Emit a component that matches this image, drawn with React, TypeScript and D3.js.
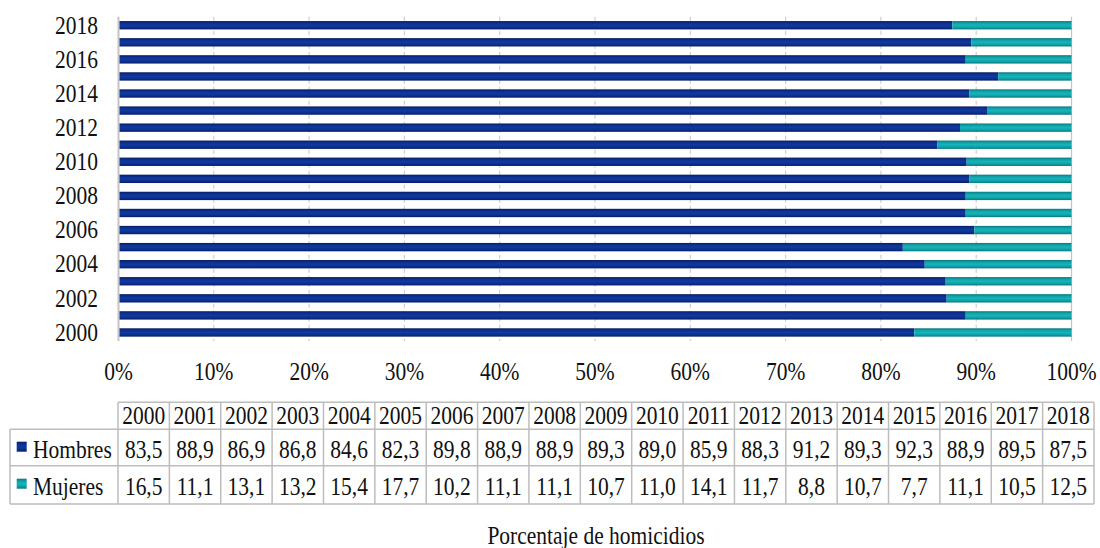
import React from "react";
import * as d3 from "d3";

// Share of homicide victims by sex, 2000–2018 (percent)
const years = [
  "2000", "2001", "2002", "2003", "2004", "2005", "2006", "2007", "2008", "2009",
  "2010", "2011", "2012", "2013", "2014", "2015", "2016", "2017", "2018",
];
const hombres = [
  83.5, 88.9, 86.9, 86.8, 84.6, 82.3, 89.8, 88.9, 88.9, 89.3,
  89.0, 85.9, 88.3, 91.2, 89.3, 92.3, 88.9, 89.5, 87.5,
];
const mujeres = [
  16.5, 11.1, 13.1, 13.2, 15.4, 17.7, 10.2, 11.1, 11.1, 10.7,
  11.0, 14.1, 11.7, 8.8, 10.7, 7.7, 11.1, 10.5, 12.5,
];
const seriesNames = ["Hombres", "Mujeres"];
const xTicks = [0, 10, 20, 30, 40, 50, 60, 70, 80, 90, 100];
const axisTitle = "Porcentaje de homicidios";

const W = 1100;
const H = 548;
const FONT = '"Times New Roman", "Liberation Serif", Times, serif';
const FS = 21.5;
const STRETCH = 1.18;

function Label(props: { x: number; y: number; anchor?: string; children: React.ReactNode }) {
  const { x, y, anchor = "middle", children } = props;
  return (
    <g transform={`translate(${x},${y}) scale(1,${STRETCH})`}>
      <text
        x={0}
        y={0}
        textAnchor={anchor as any}
        style={{ fontFamily: FONT, fontSize: FS }}
        fill="#111"
      >
        {children}
      </text>
    </g>
  );
}

const fmt = (v: number) => d3.format(".1f")(v).replace(".", ",");

export default function App() {
  const x = d3.scaleLinear().domain([0, 100]).range([118.5, 1071.5]);
  const y = d3
    .scaleBand<string>()
    .domain([...years].reverse())
    .range([16.7, 341])
    .paddingInner(0.51)
    .paddingOuter(0.255);

  const rows = years.map((yr, i) => ({ year: yr, Hombres: hombres[i], Mujeres: mujeres[i] }));
  const stacked = d3.stack<any>().keys(seriesNames)(rows);
  const gradIds = ["gH", "gM"];

  // data table geometry
  const tX0 = 118;
  const tX1 = 1094;
  const col = d3.scaleBand<string>().domain(years).range([tX0, tX1]);
  const rowLines = [402.3, 429.2, 465.8, 504];
  const baselines = [423.5, 458, 495];
  const legendX0 = 10;
  const border = "#bdbdbd";

  const [y0, y1] = y.range();

  return (
    <svg
      width={W}
      height={H}
      style={{ position: "absolute", left: 0, top: 0, background: "#fff" }}
    >
      <defs>
        <linearGradient id="gH" x1="0" y1="0" x2="0" y2="1">
          <stop offset="0" stopColor="#0a1c62" />
          <stop offset="0.25" stopColor="#0c3090" />
          <stop offset="0.5" stopColor="#0f3aa0" />
          <stop offset="0.75" stopColor="#0c3090" />
          <stop offset="1" stopColor="#0a1c62" />
        </linearGradient>
        <linearGradient id="gM" x1="0" y1="0" x2="0" y2="1">
          <stop offset="0" stopColor="#08787e" />
          <stop offset="0.25" stopColor="#10a2a8" />
          <stop offset="0.5" stopColor="#16b4ba" />
          <stop offset="0.75" stopColor="#10a2a8" />
          <stop offset="1" stopColor="#08787e" />
        </linearGradient>
      </defs>

      {/* vertical gridlines */}
      {xTicks.map((t) => (
        <line
          key={`g${t}`}
          x1={x(t)}
          x2={x(t)}
          y1={y0}
          y2={y1}
          stroke={t === 0 || t === 100 ? "#c4c4c4" : "#cfcfcf"}
          strokeWidth={t === 0 ? 2 : 1.2}
          strokeDasharray={t === 0 || t === 100 ? undefined : "4,3"}
        />
      ))}

      {/* stacked bars */}
      {stacked.map((s, si) => (
        <g key={s.key} fill={`url(#${gradIds[si]})`}>
          {s.map((d: any) => (
            <rect
              key={d.data.year}
              x={x(d[0]) + (si === 0 ? 1 : 0)}
              y={y(d.data.year)}
              width={x(d[1]) - x(d[0]) - (si === 0 ? 1 : 0)}
              height={y.bandwidth()}
            />
          ))}
        </g>
      ))}

      {/* category labels (every other year) */}
      {years
        .filter((_, i) => i % 2 === 0)
        .map((yr) => (
          <Label key={`yl${yr}`} x={98} y={(y(yr) as number) + y.bandwidth() / 2 + 8.3} anchor="end">
            {yr}
          </Label>
        ))}

      {/* value axis labels */}
      {xTicks.map((t) => (
        <Label key={`xl${t}`} x={x(t)} y={380}>
          {`${t}%`}
        </Label>
      ))}

      {/* data table */}
      <g stroke={border} strokeWidth={1.5} fill="none">
        <line x1={tX0} x2={tX1} y1={rowLines[0]} y2={rowLines[0]} />
        {rowLines.slice(1).map((ly, i) => (
          <line key={`hl${i}`} x1={legendX0} x2={tX1} y1={ly} y2={ly} />
        ))}
        <line x1={legendX0} x2={legendX0} y1={rowLines[1]} y2={rowLines[3]} />
        {years.map((yr) => (
          <line
            key={`vl${yr}`}
            x1={col(yr)}
            x2={col(yr)}
            y1={rowLines[0]}
            y2={rowLines[3]}
          />
        ))}
        <line x1={tX1} x2={tX1} y1={rowLines[0]} y2={rowLines[3]} />
      </g>

      {years.map((yr, i) => {
        const cx = (col(yr) as number) + col.bandwidth() / 2;
        return (
          <g key={`tc${yr}`}>
            <Label x={cx} y={baselines[0]}>{yr}</Label>
            <Label x={cx} y={baselines[1]}>{fmt(hombres[i])}</Label>
            <Label x={cx} y={baselines[2]}>{fmt(mujeres[i])}</Label>
          </g>
        );
      })}

      {/* legend keys inside the table */}
      {seriesNames.map((name, si) => (
        <g key={`lg${name}`}>
          <rect
            x={16.7}
            y={baselines[si + 1] - 16.3}
            width={10}
            height={10}
            fill={`url(#${gradIds[si]})`}
          />
          <Label x={33} y={baselines[si + 1]} anchor="start">
            {name}
          </Label>
        </g>
      ))}

      {/* axis title */}
      <Label x={596} y={544}>{axisTitle}</Label>
    </svg>
  );
}
